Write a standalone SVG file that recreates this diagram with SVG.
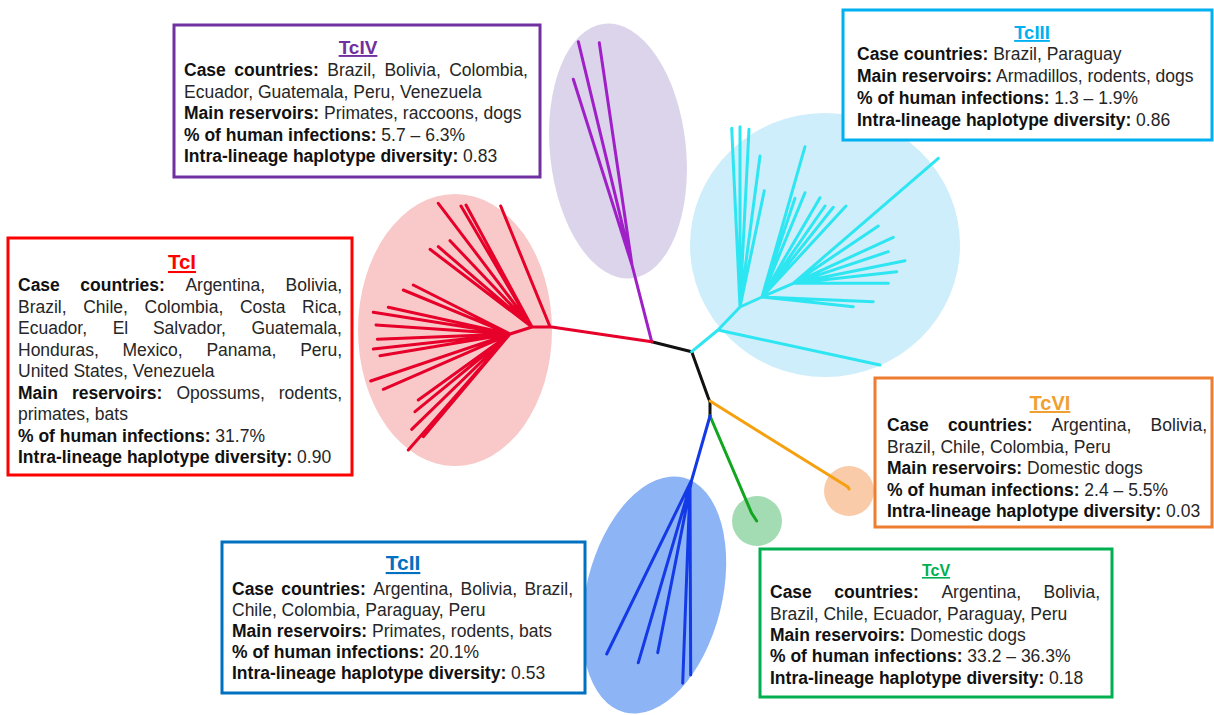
<svg xmlns="http://www.w3.org/2000/svg" width="1214" height="715" viewBox="0 0 1214 715">
<style>
text{font-family:"Liberation Sans",Arial,sans-serif;font-size:17.5px;fill:#262626}
.b{font-weight:bold;fill:#111}
.t{font-weight:bold;text-decoration:underline;text-anchor:middle}
.box{fill:#fff;stroke-width:3}
.br{fill:none;stroke-width:3;stroke-linecap:round;stroke-linejoin:round}
</style>
<rect width="1214" height="715" fill="#fff"/>
<g id="clades">
<ellipse cx="618" cy="151" rx="68" ry="128" transform="rotate(-6 618 151)" fill="#DCD4EB"/>
<ellipse cx="825" cy="245" rx="135" ry="132" fill="#CDEEFA"/>
<ellipse cx="455" cy="330" rx="97" ry="136" fill="#F9C9C9"/>
<ellipse cx="654" cy="595" rx="68" ry="121" transform="rotate(14 654 595)" fill="#8DB4F5"/>
<circle cx="757" cy="521" r="25" fill="#A3DBB3"/>
<circle cx="849" cy="491" r="25" fill="#F9CBA8"/>
</g>
<g id="connectors">
<path class="br" stroke="#111" d="M651.7,341.7 L691.7,351.7 L708,397 L710,402 L710,416"/>
<path class="br" stroke="#F5A00F" d="M710,401 L848,487 L849,489"/>
<path class="br" stroke="#12A51F" d="M710,416 L751.7,513.3 L756.7,521"/>
<path class="br" stroke="#1439E6" d="M710,416 L691.7,480 M691.7,480 L606.7,654 M691.7,480 L638.3,662.7 M691.7,480 L657.7,652.7 M690,486 L682.7,683.3 M690,486 L690.7,675"/>
<path class="br" stroke="#A020C8" d="M651.7,341.7 L632,265 M632,265 L578.3,41.7 M632,265 L599.3,42.7 M632,265 L573.3,79.3"/>
<path class="br" stroke="#E6002A" d="M651.7,341.7 L550,326.7 M550,326.7 L500.7,206 M550,326.7 L532,327 M532,327 L438.3,203.3 M532,327 L461,206 M532,327 L466,205 M532,327 L450,240.7 M532,327 L430,249.3 M532,327 L438.3,246.7 M532,327 L510,334 M510,334 L413.3,285 M510,334 L403.3,290 M510,334 L388.3,307.3 M510,334 L373.3,312.3 M510,334 L376,325 M510,334 L377.3,339.3 M510,334 L373.3,349 M510,334 L380,355.7 M510,334 L370.7,381 M510,334 L383.3,389.3 M510,334 L418.3,400 M510,334 L415,411.7 M510,334 L411.7,429.3 M510,334 L408.3,450 M510,334 L423.3,436.7"/>
<path class="br" stroke="#2EE6F2" d="M691.7,351.7 L718,330 M718,330 L880,365 M718,330 L740,307 M740,307 L731.7,128.3 M740,307 L740,126.7 M740,307 L749,129.3 M740,307 L760,156 M740,307 L764.3,190.7 M740,307 L762,297 M762,297 L805,146.7 M762,297 L795,198.3 M762,297 L805,192.7 M762,297 L820,197.7 M762,297 L825,206 M762,297 L833.3,207.3 M762,297 L846,206 M762,297 L793.3,283.3 M793.3,283.3 L938.3,158.3 M793.3,283.3 L878.3,226 M793.3,283.3 L893.3,237.3 M793.3,283.3 L888.3,251.7 M793.3,283.3 L905,260.7 M793.3,283.3 L896.7,271.7 M793.3,283.3 L888.3,283.3 M762,297 L873.3,301.7 M762,297 L853.3,306.7"/>
</g>
<g id="TcIV">
<rect class="box" x="174" y="25" width="366" height="152" stroke="#7030A0"/>
<text class="t" x="358" y="54" style="font-size:19px;fill:#7030A0">TcIV</text>
<text y="76"><tspan class="b" x="184">Case</tspan><tspan class="b" x="234.3">countries:</tspan><tspan x="327.3">Brazil,</tspan><tspan x="384.4">Bolivia,</tspan><tspan x="449.2">Colombia,</tspan></text>
<text x="184" y="97.5">Ecuador, Guatemala, Peru, Venezuela</text>
<text x="184" y="119"><tspan class="b">Main reservoirs:</tspan> Primates, raccoons, dogs</text>
<text x="184" y="140.5"><tspan class="b">% of human infections:</tspan> 5.7 – 6.3%</text>
<text x="184" y="162"><tspan class="b">Intra-lineage haplotype diversity:</tspan> 0.83</text>
</g>
<g id="TcIII">
<rect class="box" x="843" y="10" width="369" height="130" stroke="#00B0F0"/>
<text class="t" x="1032" y="39" style="font-size:18.5px;fill:#00B0F0">TcIII</text>
<text x="857" y="60"><tspan class="b">Case countries:</tspan> Brazil, Paraguay</text>
<text x="857" y="82"><tspan class="b">Main reservoirs:</tspan> Armadillos, rodents, dogs</text>
<text x="857" y="104"><tspan class="b">% of human infections:</tspan> 1.3 – 1.9%</text>
<text x="857" y="126"><tspan class="b">Intra-lineage haplotype diversity:</tspan> 0.86</text>
</g>
<g id="TcI">
<rect class="box" x="8" y="238" width="344" height="237" stroke="#FF0000"/>
<text class="t" x="182" y="269" style="font-size:20.5px;fill:#FF0000">TcI</text>
<text y="291"><tspan class="b" x="18">Case</tspan><tspan class="b" x="80.3">countries:</tspan><tspan x="185.4">Argentina,</tspan><tspan x="285.6">Bolivia,</tspan></text>
<text y="312.5"><tspan x="18">Brazil,</tspan><tspan x="83.2">Chile,</tspan><tspan x="144.5">Colombia,</tspan><tspan x="239.9">Costa</tspan><tspan x="302.1">Rica,</tspan></text>
<text y="334"><tspan x="18">Ecuador,</tspan><tspan x="112.7">El</tspan><tspan x="152.9">Salvador,</tspan><tspan x="251.5">Guatemala,</tspan></text>
<text y="355.5"><tspan x="18">Honduras,</tspan><tspan x="122.4">Mexico,</tspan><tspan x="206.4">Panama,</tspan><tspan x="300.2">Peru,</tspan></text>
<text x="18" y="377">United States, Venezuela</text>
<text y="398.5"><tspan class="b" x="18">Main</tspan><tspan class="b" x="71.9">reservoirs:</tspan><tspan x="176.4">Opossums,</tspan><tspan x="278.8">rodents,</tspan></text>
<text x="18" y="420">primates, bats</text>
<text x="18" y="441.5"><tspan class="b">% of human infections:</tspan> 31.7%</text>
<text x="18" y="463"><tspan class="b">Intra-lineage haplotype diversity:</tspan> 0.90</text>
</g>
<g id="TcVI">
<rect class="box" x="875" y="378" width="337" height="149" stroke="#ED7D31"/>
<text class="t" x="1050" y="410" style="font-size:20px;fill:#F0A030">TcVI</text>
<text y="431"><tspan class="b" x="887">Case</tspan><tspan class="b" x="947.9">countries:</tspan><tspan x="1051.6">Argentina,</tspan><tspan x="1150.6">Bolivia,</tspan></text>
<text x="887" y="452.5">Brazil, Chile, Colombia, Peru</text>
<text x="887" y="474"><tspan class="b">Main reservoirs:</tspan> Domestic dogs</text>
<text x="887" y="495.5"><tspan class="b">% of human infections:</tspan> 2.4 – 5.5%</text>
<text x="887" y="517"><tspan class="b">Intra-lineage haplotype diversity:</tspan> 0.03</text>
</g>
<g id="TcII">
<rect class="box" x="222" y="542" width="363" height="151" stroke="#0070C0"/>
<text class="t" x="403" y="570" style="font-size:21px;fill:#0070C0">TcII</text>
<text y="595"><tspan class="b" x="232">Case</tspan><tspan class="b" x="281.3">countries:</tspan><tspan x="373.3">Argentina,</tspan><tspan x="460.6">Bolivia,</tspan><tspan x="524.4">Brazil,</tspan></text>
<text x="232" y="616">Chile, Colombia, Paraguay, Peru</text>
<text x="232" y="637"><tspan class="b">Main reservoirs:</tspan> Primates, rodents, bats</text>
<text x="232" y="658"><tspan class="b">% of human infections:</tspan> 20.1%</text>
<text x="232" y="679"><tspan class="b">Intra-lineage haplotype diversity:</tspan> 0.53</text>
</g>
<g id="TcV">
<rect class="box" x="760" y="549" width="352" height="148" stroke="#00B050"/>
<text class="t" x="936" y="576" style="font-size:16px;fill:#00B050">TcV</text>
<text y="598"><tspan class="b" x="770">Case</tspan><tspan class="b" x="834.3">countries:</tspan><tspan x="941.4">Argentina,</tspan><tspan x="1043.6">Bolivia,</tspan></text>
<text x="770" y="619.5">Brazil, Chile, Ecuador, Paraguay, Peru</text>
<text x="770" y="641"><tspan class="b">Main reservoirs:</tspan> Domestic dogs</text>
<text x="770" y="662"><tspan class="b">% of human infections:</tspan> 33.2 – 36.3%</text>
<text x="770" y="683.5"><tspan class="b">Intra-lineage haplotype diversity:</tspan> 0.18</text>
</g>
</svg>
